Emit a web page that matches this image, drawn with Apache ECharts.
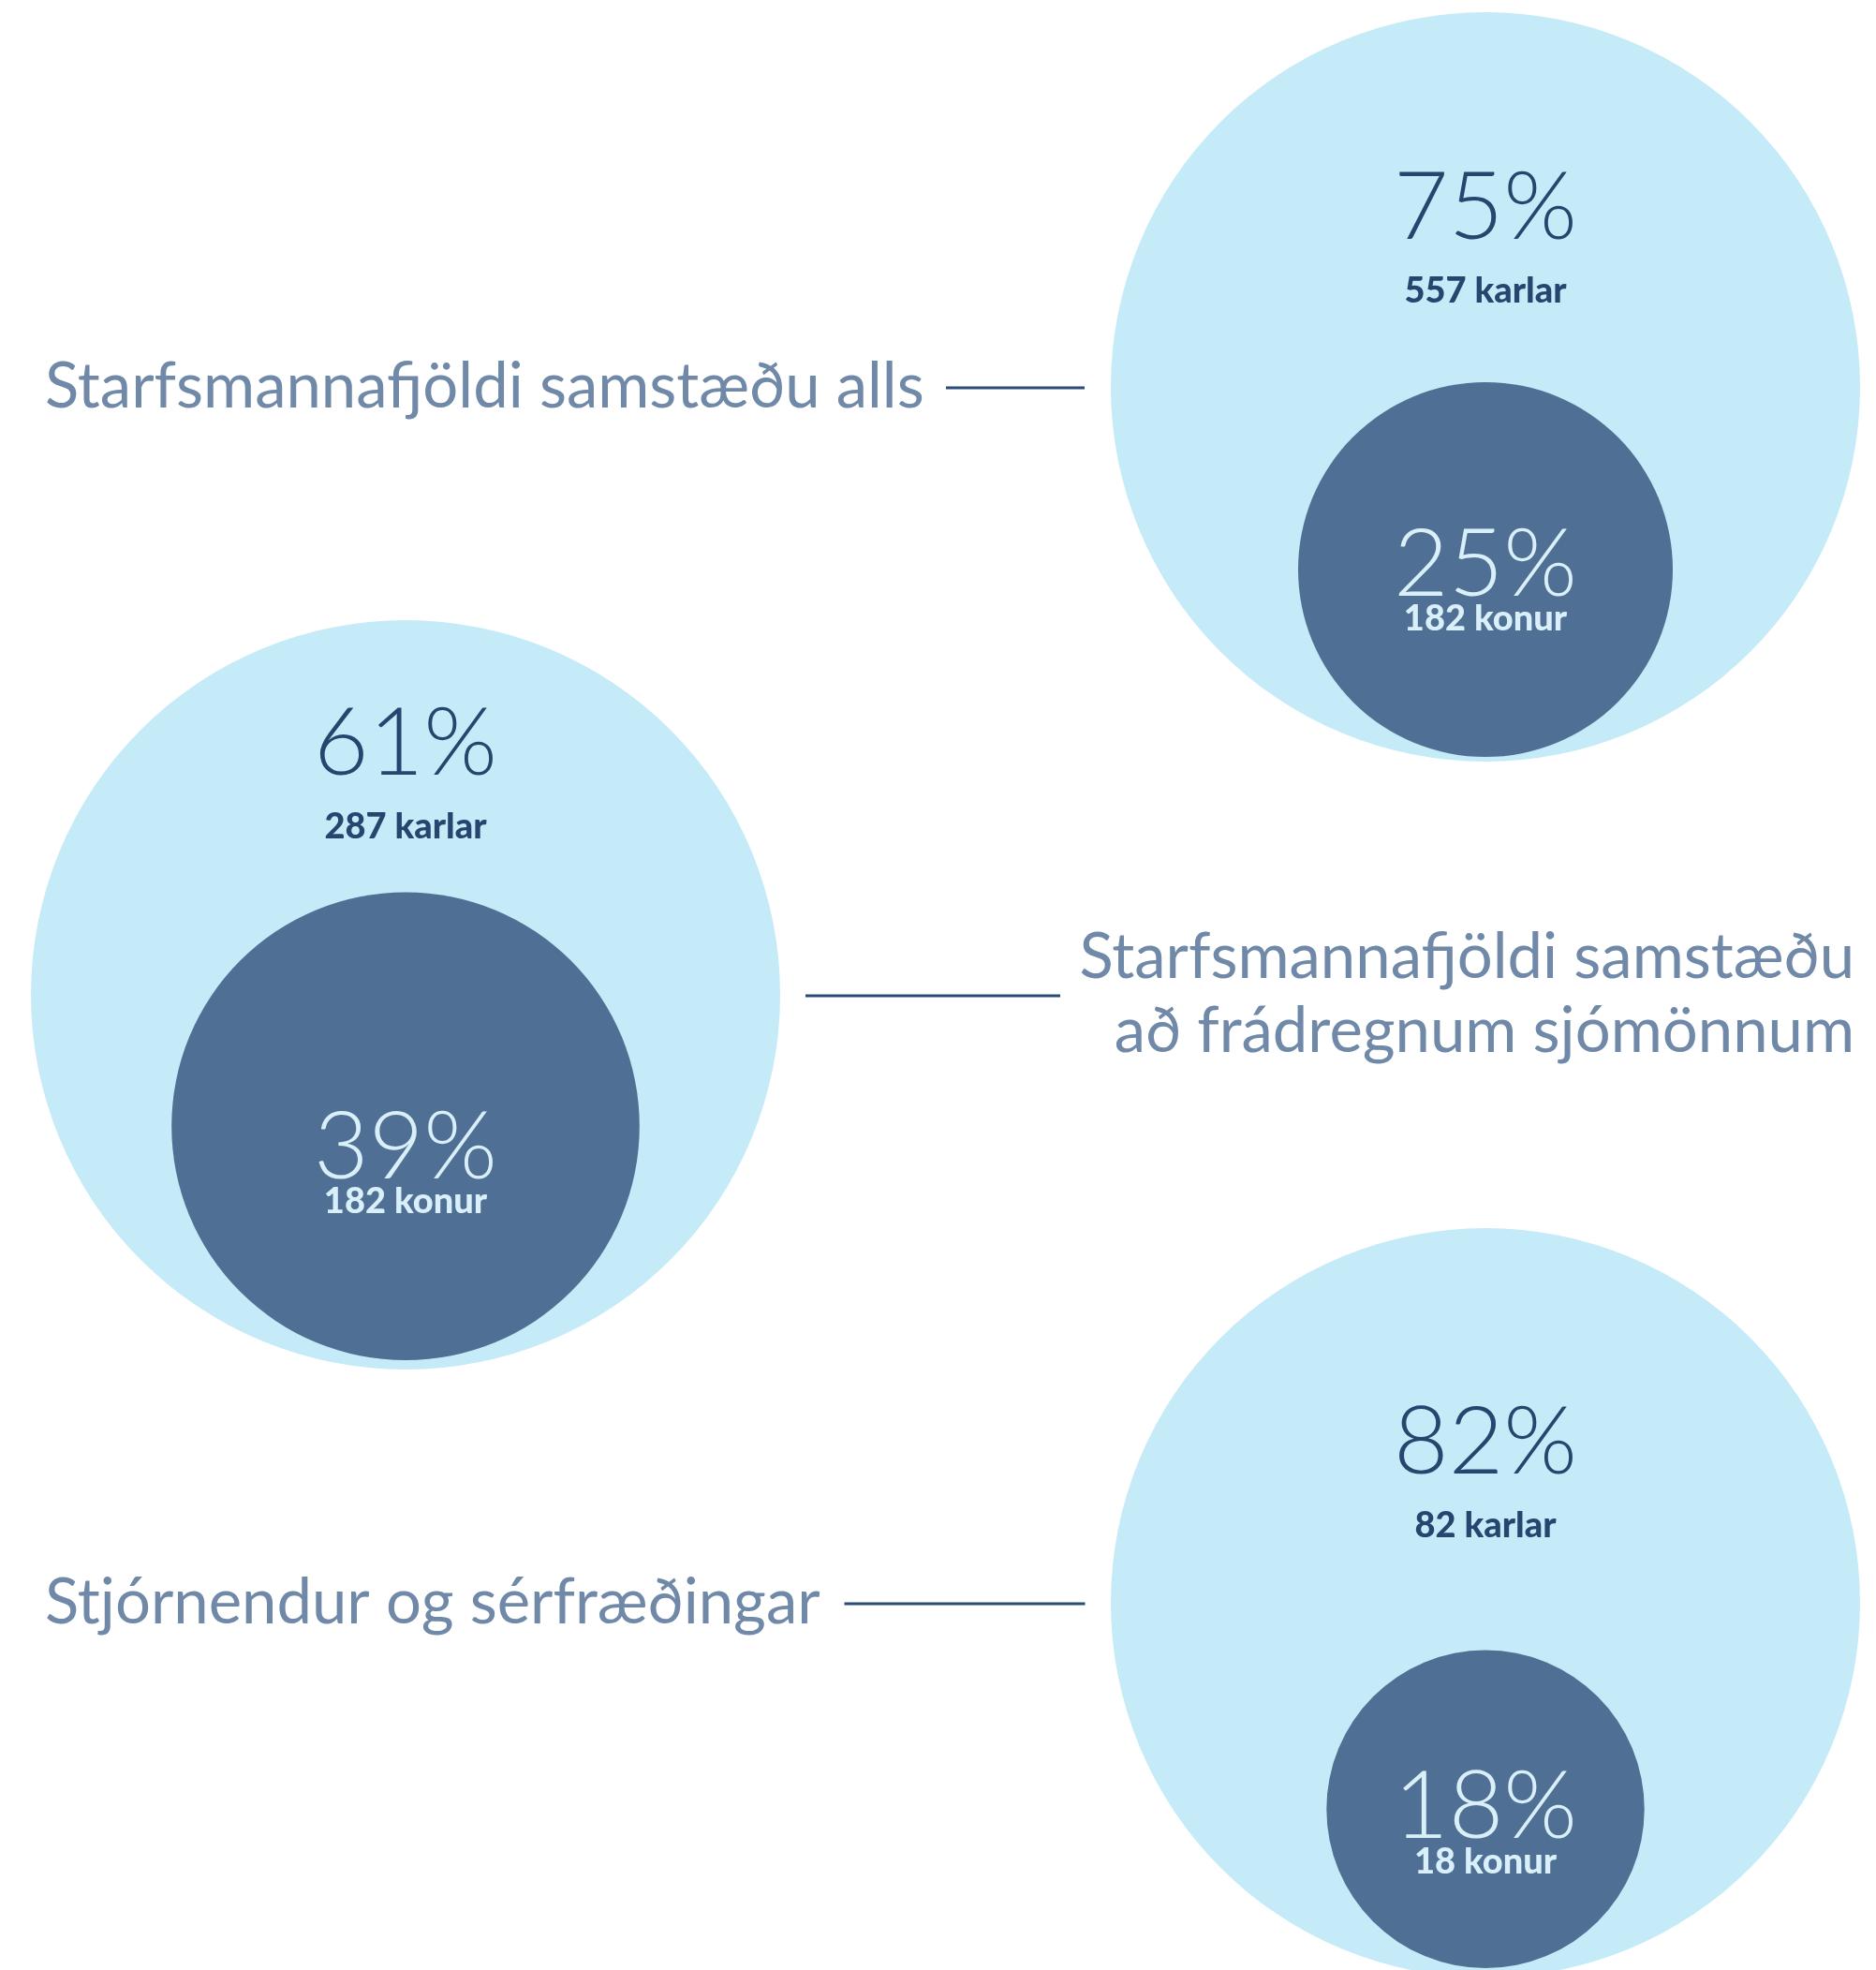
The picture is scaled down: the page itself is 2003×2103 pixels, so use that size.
<!DOCTYPE html>
<html>
<head>
<meta charset="utf-8">
<script src="https://cdn.jsdelivr.net/npm/echarts@6/dist/echarts.min.js"></script>
<style>html,body{margin:0;padding:0;background:#fff}#c{width:2003px;height:2103px}</style>
</head>
<body>
<div id="c"></div>
<script>
// ---------- DATA ----------
const groups = ['Starfsmannafjöldi samstæðu alls', 'Starfsmannafjöldi samstæðu\nað frádregnum sjómönnum', 'Stjórnendur og sérfræðingar'];
const menPct = [75, 61, 82];
const womenPct = [25, 39, 18];
const menCount = [557, 287, 82];
const womenCount = [182, 182, 18];
const sides = ['vinstri', 'hægri'];

// ---------- LAYOUT ----------
const groupSide = ['hægri', 'vinstri', 'hægri'];
const OUTER_D = 800;
const innerGap = [5, 10, 10];
const menDy = [-152, -229, -132];
const womenDy = [13, 41, 16];
const labelDx = [-1538, 1547, -1538];
const labelAlign = ['left', 'right', 'left'];
const lineDx = [-502, 563, -556];
const lineLen = [148, 272, 257];

const C_OUTER = '#c5ebf8', C_INNER = '#4f7094', C_DARK = '#26466f', C_LIGHTTXT = '#d9f0fa', C_LABEL = '#7089a8', C_LINE = '#2a4a78';

function innerD(i) { return OUTER_D * Math.sqrt(womenPct[i] / 100); }
function innerShift(i) { return OUTER_D / 2 - innerD(i) / 2 - innerGap[i]; }

const pts = groups.map((g, i) => [groupSide[i], g]);

const chart = echarts.init(document.getElementById('c'), null, {renderer: 'canvas'});
const base = {type: 'scatter', silent: true, animation: false, emphasis: {disabled: true}};

chart.setOption({
  animation: false,
  grid: {left: 433, right: 417, top: 88.5, bottom: 67.5, containLabel: false},
  xAxis: {type: 'category', data: sides, boundaryGap: false, show: false},
  yAxis: {type: 'category', data: groups, inverse: true, boundaryGap: true, show: false},
  series: [
    Object.assign({}, base, {
      name: 'alls', data: pts, symbol: 'circle', symbolSize: OUTER_D,
      itemStyle: {color: C_OUTER, opacity: 1}
    }),
    Object.assign({}, base, {
      name: 'konur', data: pts.map((p, i) => ({value: p, symbolSize: innerD(i), symbolOffset: [0, innerShift(i)]})),
      symbol: 'circle', itemStyle: {color: C_INNER, opacity: 1}
    }),
    Object.assign({}, base, {
      name: 'karlar-txt', data: pts.map((p, i) => ({value: p, label: {offset: [0, menDy[i]]}})),
      symbol: 'circle', symbolSize: 1, itemStyle: {color: 'transparent', opacity: 1},
      label: {
        show: true, position: 'inside', align: 'center', verticalAlign: 'middle',
        formatter: (d) => '{p|' + menPct[d.dataIndex] + '%}\n{c|' + menCount[d.dataIndex] + ' karlar}',
        rich: {
          p: {fontFamily: 'Lato', fontWeight: 300, fontSize: 101, lineHeight: 100, color: C_DARK, align: 'center'},
          c: {fontFamily: 'Lato', fontWeight: 900, fontSize: 38, lineHeight: 78, color: C_DARK, align: 'center'}
        }
      }
    }),
    Object.assign({}, base, {
      name: 'konur-txt', data: pts.map((p, i) => ({value: p, label: {offset: [0, innerShift(i) + womenDy[i]]}})),
      symbol: 'circle', symbolSize: 1, itemStyle: {color: 'transparent', opacity: 1},
      label: {
        show: true, position: 'inside', align: 'center', verticalAlign: 'middle',
        formatter: (d) => '{p|' + womenPct[d.dataIndex] + '%}\n{c|' + womenCount[d.dataIndex] + ' konur}',
        rich: {
          p: {fontFamily: 'Lato', fontWeight: 300, fontSize: 101, lineHeight: 80, color: C_LIGHTTXT, align: 'center'},
          c: {fontFamily: 'Lato', fontWeight: 900, fontSize: 38, lineHeight: 36, color: C_LIGHTTXT, align: 'center'}
        }
      }
    }),
    Object.assign({}, base, {
      name: 'heiti', data: pts.map((p, i) => ({value: p, label: {offset: [labelDx[i], 0], align: labelAlign[i]}})),
      symbol: 'circle', symbolSize: 1, itemStyle: {color: 'transparent', opacity: 1},
      label: {
        show: true, position: 'inside', verticalAlign: 'middle',
        formatter: (d) => groups[d.dataIndex],
        fontFamily: 'Lato', fontWeight: 400, fontSize: 67, lineHeight: 79, color: C_LABEL
      }
    }),
    Object.assign({}, base, {
      name: 'lina', data: pts.map((p, i) => ({value: p, symbolSize: [lineLen[i], 3], symbolOffset: [lineDx[i], 1]})),
      symbol: 'rect', itemStyle: {color: C_LINE, opacity: 1}
    })
  ]
});
</script>
</body>
</html>
